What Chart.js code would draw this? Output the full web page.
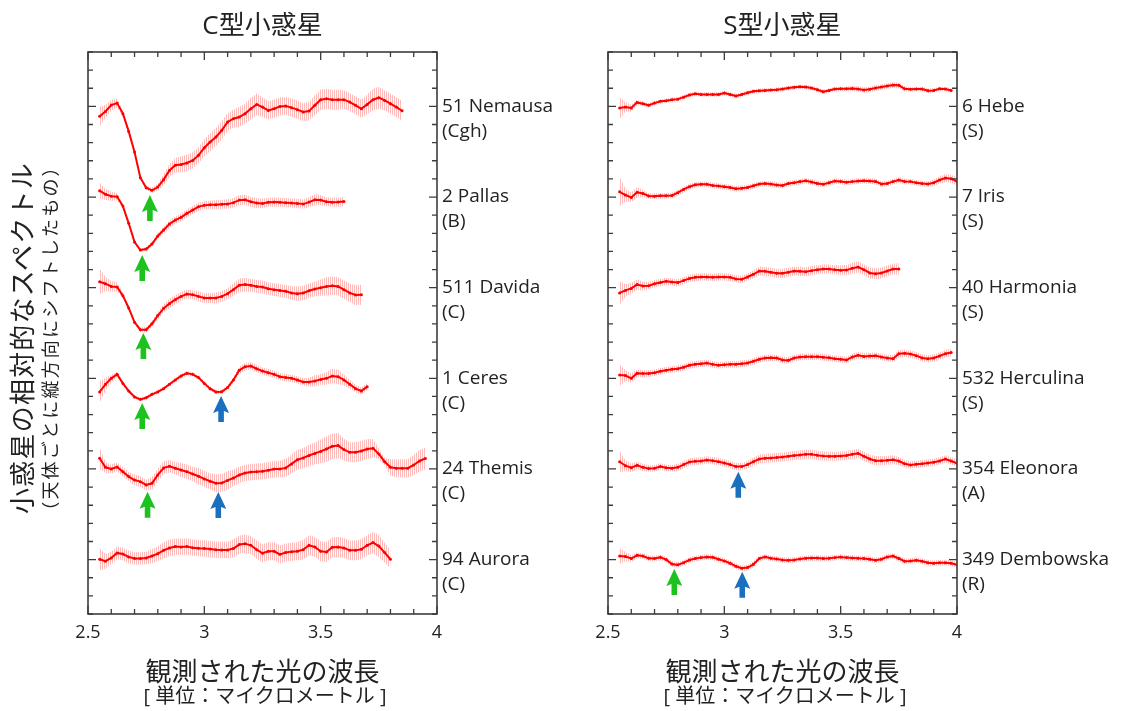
<!DOCTYPE html>
<html><head><meta charset="utf-8">
<script src="https://cdn.jsdelivr.net/npm/chart.js@4/dist/chart.umd.min.js"></script>
<style>
html,body{margin:0;padding:0;background:#fff;}
#wrap{position:relative;width:1121px;height:711px;overflow:hidden;font-family:"Open Sans","Noto Sans CJK JP",sans-serif;color:#222;}
.cv{position:absolute;top:0;height:711px;}
.t{position:absolute;text-align:center;white-space:nowrap;}
</style></head><body>
<div id="wrap">
<div class="cv" style="left:0;width:560px"><canvas id="c1"></canvas></div>
<div class="cv" style="left:560px;width:561px"><canvas id="c2"></canvas></div>
<div class="t" style="left:62.5px;width:400px;top:8px;font-size:26px;line-height:32px">C型小惑星</div>
<div class="t" style="left:582.5px;width:400px;top:8px;font-size:26px;line-height:32px">S型小惑星</div>
<div class="t" style="left:62.5px;width:400px;top:655px;font-size:26px;line-height:32px">観測された光の波長</div>
<div class="t" style="left:65px;width:400px;top:684px;font-size:20px;line-height:24px">[ 単位：マイクロメートル ]</div>
<div class="t" style="left:582.5px;width:400px;top:655px;font-size:26px;line-height:32px">観測された光の波長</div>
<div class="t" style="left:585px;width:400px;top:684px;font-size:20px;line-height:24px">[ 単位：マイクロメートル ]</div>
<div class="t" style="left:-178px;top:322px;width:400px;font-size:26px;line-height:32px;letter-spacing:1.2px;transform:rotate(-90deg)">小惑星の相対的なスペクトル</div>
<div class="t" style="left:-150px;top:326px;width:400px;font-size:18px;line-height:24px;letter-spacing:2.2px;transform:rotate(-90deg)">（天体ごとに縦方向にシフトしたもの）</div>
</div>
<script>
// ---- data ----
const wavelengths = [2.55,2.575,2.6,2.625,2.65,2.675,2.7,2.725,2.75,2.775,2.8,2.825,2.85,2.875,2.9,2.925,2.95,2.975,3.0,3.025,3.05,3.075,3.1,3.125,3.15,3.175,3.2,3.225,3.25,3.275,3.3,3.325,3.35,3.375,3.4,3.425,3.45,3.475,3.5,3.525,3.55,3.575,3.6,3.625,3.65,3.675,3.7,3.725,3.75,3.775,3.8,3.825,3.85,3.875,3.9,3.925,3.95,3.975,4.0];
const xTickLabels = ['2.5','3','3.5','4'];
const baselines = [28,23,18,13,8,3];

const cNames = ['51 Nemausa','2 Pallas','511 Davida','1 Ceres','24 Themis','94 Aurora'];
const cClasses = ['(Cgh)','(B)','(C)','(C)','(C)','(C)'];
const sNames = ['6 Hebe','7 Iris','40 Harmonia','532 Herculina','354 Eleonora','349 Dembowska'];
const sClasses = ['(S)','(S)','(S)','(S)','(A)','(R)'];

// relative spectra (offset from each baseline), C-type
const nemausa = [-0.55,-0.28,0.07,0.18,-0.40,-1.38,-2.52,-3.93,-4.49,-4.63,-4.45,-4.04,-3.53,-3.25,-3.20,-3.12,-2.98,-2.70,-2.28,-1.97,-1.69,-1.32,-0.86,-0.68,-0.59,-0.40,-0.13,0.11,-0.04,-0.22,-0.13,0,0.02,-0.07,-0.18,-0.31,-0.26,0.06,0.37,0.42,0.37,0.37,0.37,0.24,0.06,-0.13,0.11,0.37,0.48,0.33,0.15,-0.04,-0.24];
const nemausaErr = [0.55,0.35,0.3,0.25,0.15,0.1,0.1,0.1,0.12,0.15,0.2,0.3,0.35,0.4,0.45,0.45,0.45,0.45,0.45,0.5,0.5,0.5,0.5,0.5,0.55,0.55,0.6,0.6,0.55,0.5,0.5,0.5,0.5,0.5,0.5,0.5,0.5,0.55,0.55,0.55,0.55,0.55,0.5,0.5,0.5,0.5,0.55,0.6,0.6,0.55,0.55,0.55,0.55];
const pallas = [0.35,0.15,0.05,0.02,-0.50,-1.45,-2.48,-2.92,-2.87,-2.59,-2.15,-1.82,-1.49,-1.27,-1.12,-0.90,-0.72,-0.53,-0.46,-0.42,-0.42,-0.40,-0.39,-0.31,-0.17,-0.15,-0.26,-0.33,-0.35,-0.29,-0.28,-0.29,-0.31,-0.33,-0.35,-0.39,-0.28,-0.15,-0.17,-0.26,-0.29,-0.28,-0.24];
const pallasErr = [0.45,0.3,0.25,0.2,0.12,0.08,0.08,0.1,0.1,0.12,0.15,0.18,0.2,0.2,0.22,0.22,0.22,0.22,0.22,0.22,0.25,0.25,0.25,0.25,0.28,0.28,0.28,0.28,0.25,0.25,0.25,0.25,0.25,0.25,0.25,0.25,0.28,0.3,0.28,0.25,0.25,0.25,0.25];
const davida = [0.33,0.22,0.07,0.04,-0.44,-1.12,-1.91,-2.32,-2.32,-1.99,-1.54,-1.14,-0.88,-0.66,-0.48,-0.35,-0.39,-0.48,-0.57,-0.57,-0.57,-0.48,-0.33,-0.11,0.13,0.17,0.13,0.07,0.04,-0.06,-0.11,-0.15,-0.20,-0.29,-0.33,-0.29,-0.17,-0.07,0,0.07,0.11,0.07,-0.11,-0.29,-0.40,-0.39];
const davidaErr = [0.7,0.4,0.3,0.25,0.15,0.1,0.1,0.12,0.15,0.15,0.2,0.22,0.25,0.25,0.25,0.25,0.25,0.28,0.28,0.28,0.3,0.3,0.3,0.35,0.38,0.38,0.35,0.35,0.35,0.35,0.35,0.35,0.35,0.38,0.4,0.4,0.4,0.4,0.45,0.5,0.5,0.5,0.5,0.5,0.55,0.55];
const ceres = [-0.75,-0.33,0,0.22,-0.28,-0.70,-1.03,-1.16,-1.07,-0.88,-0.75,-0.57,-0.33,-0.09,0.13,0.28,0.22,0.04,-0.28,-0.57,-0.75,-0.74,-0.51,-0.09,0.44,0.64,0.68,0.53,0.40,0.31,0.22,0.09,0.04,0,-0.09,-0.20,-0.20,-0.15,-0.06,0,0.13,0.09,-0.09,-0.33,-0.57,-0.70,-0.46];
const ceresErr = [0.6,0.35,0.2,0.15,0.12,0.1,0.1,0.1,0.1,0.1,0.1,0.1,0.1,0.12,0.12,0.12,0.12,0.12,0.12,0.12,0.12,0.12,0.12,0.15,0.2,0.2,0.2,0.2,0.2,0.2,0.2,0.2,0.2,0.2,0.2,0.2,0.25,0.3,0.3,0.35,0.4,0.4,0.3,0.25,0.2,0.2,0.2];
const themis = [0.59,0.09,0,0.11,-0.15,-0.42,-0.61,-0.70,-0.88,-0.79,-0.33,0.06,0.15,0.04,-0.06,-0.15,-0.28,-0.40,-0.55,-0.68,-0.79,-0.77,-0.63,-0.50,-0.33,-0.22,-0.17,-0.15,-0.13,-0.07,0,0,0.06,0.28,0.51,0.61,0.74,0.86,0.97,1.10,1.25,1.29,1.07,0.92,0.92,0.99,1.10,1.14,0.83,0.40,0.09,0.04,0.04,0.04,0.22,0.44,0.58];
const themisErr = [0.6,0.3,0.25,0.25,0.25,0.25,0.3,0.3,0.3,0.35,0.35,0.35,0.35,0.35,0.4,0.4,0.4,0.45,0.45,0.45,0.5,0.5,0.5,0.45,0.45,0.45,0.45,0.45,0.45,0.45,0.45,0.45,0.5,0.5,0.55,0.55,0.6,0.6,0.65,0.7,0.7,0.7,0.6,0.55,0.55,0.55,0.55,0.5,0.3,0.2,0.45,0.5,0.5,0.5,0.55,0.6,0.6];
const aurora = [0.02,-0.09,0.09,0.37,0.31,0.15,0.06,0.06,0.09,0.20,0.33,0.51,0.64,0.72,0.70,0.72,0.66,0.63,0.61,0.59,0.55,0.53,0.53,0.61,0.83,0.88,0.79,0.55,0.35,0.46,0.46,0.29,0.39,0.44,0.46,0.55,0.79,0.70,0.46,0.42,0.68,0.70,0.64,0.51,0.51,0.57,0.79,0.94,0.75,0.39,0.02];
const auroraErr = [0.6,0.4,0.35,0.35,0.35,0.35,0.35,0.35,0.35,0.4,0.4,0.45,0.45,0.45,0.45,0.45,0.45,0.45,0.45,0.45,0.45,0.45,0.45,0.5,0.5,0.5,0.5,0.5,0.5,0.5,0.5,0.5,0.5,0.5,0.5,0.55,0.55,0.55,0.55,0.55,0.55,0.55,0.55,0.55,0.55,0.55,0.55,0.6,0.6,0.55,0.5];

// S-type
const hebe = [-0.09,-0.04,-0.09,0.22,0.15,0.06,0.18,0.28,0.31,0.37,0.40,0.51,0.63,0.70,0.66,0.66,0.66,0.66,0.74,0.66,0.57,0.66,0.75,0.83,0.86,0.88,0.90,0.92,0.96,1.01,1.05,1.08,1.07,1.01,0.92,0.81,0.88,0.96,0.97,0.97,0.99,0.96,0.90,0.94,1.01,1.07,1.12,1.18,1.16,0.97,0.94,0.96,0.96,0.86,0.88,0.97,0.96,0.88];
const hebeErr = [0.6,0.25,0.2,0.15,0.12,0.12,0.12,0.12,0.12,0.12,0.12,0.12,0.12,0.12,0.12,0.12,0.12,0.12,0.12,0.12,0.12,0.12,0.12,0.12,0.12,0.12,0.12,0.12,0.12,0.12,0.12,0.12,0.12,0.12,0.12,0.12,0.12,0.12,0.12,0.12,0.15,0.15,0.15,0.15,0.15,0.15,0.15,0.15,0.15,0.15,0.12,0.12,0.12,0.12,0.12,0.12,0.12,0.12];
const iris = [0.29,0.11,-0.02,0.26,0.20,0.06,0.04,0.07,0.07,0.09,0.24,0.42,0.57,0.68,0.70,0.70,0.64,0.61,0.57,0.53,0.46,0.48,0.53,0.62,0.72,0.75,0.72,0.66,0.64,0.75,0.79,0.85,0.90,0.83,0.75,0.70,0.79,0.88,0.86,0.81,0.85,0.88,0.90,0.88,0.86,0.72,0.75,0.85,0.94,0.86,0.85,0.79,0.75,0.72,0.79,0.94,1.05,1.01,0.86];
const irisErr = [0.8,0.35,0.25,0.3,0.2,0.15,0.15,0.15,0.15,0.15,0.15,0.15,0.15,0.15,0.15,0.15,0.15,0.15,0.15,0.15,0.15,0.15,0.15,0.15,0.15,0.15,0.15,0.15,0.15,0.15,0.15,0.15,0.15,0.15,0.15,0.15,0.15,0.15,0.15,0.15,0.15,0.15,0.15,0.15,0.15,0.15,0.15,0.15,0.15,0.15,0.15,0.15,0.15,0.15,0.18,0.2,0.22,0.22,0.22];
const harmonia = [-0.29,-0.15,-0.04,0.17,0.09,0.11,0.22,0.29,0.35,0.31,0.28,0.39,0.51,0.57,0.59,0.59,0.57,0.59,0.59,0.57,0.48,0.46,0.59,0.74,0.92,0.90,0.85,0.79,0.79,0.85,0.92,0.90,0.88,0.94,0.99,1.03,1.03,0.99,0.96,0.97,1.07,1.14,0.99,0.81,0.77,0.81,0.92,1.03,1.03];
const harmoniaErr = [0.65,0.35,0.3,0.3,0.25,0.2,0.2,0.2,0.2,0.2,0.2,0.2,0.2,0.2,0.2,0.2,0.2,0.2,0.2,0.2,0.2,0.2,0.2,0.22,0.25,0.25,0.25,0.25,0.25,0.25,0.25,0.25,0.25,0.25,0.25,0.25,0.25,0.25,0.28,0.28,0.3,0.3,0.3,0.3,0.3,0.3,0.3,0.3,0.3];
const herculina = [0.18,0.15,0,0.28,0.26,0.26,0.31,0.39,0.44,0.50,0.53,0.61,0.72,0.77,0.81,0.85,0.77,0.72,0.75,0.77,0.77,0.81,0.85,0.94,1.05,1.12,1.14,1.12,1.01,0.99,1.12,1.18,1.19,1.19,1.19,1.16,1.14,1.08,1.05,1.01,1.18,1.27,1.21,1.23,1.25,1.18,1.12,1.08,1.36,1.38,1.34,1.25,1.12,1.08,1.12,1.23,1.36,1.42];
const herculinaErr = [0.6,0.3,0.25,0.2,0.2,0.18,0.18,0.18,0.18,0.18,0.18,0.18,0.18,0.18,0.18,0.18,0.18,0.18,0.18,0.18,0.18,0.18,0.18,0.18,0.18,0.18,0.18,0.18,0.18,0.18,0.18,0.18,0.18,0.18,0.18,0.18,0.18,0.18,0.18,0.18,0.18,0.18,0.18,0.18,0.18,0.18,0.18,0.18,0.2,0.2,0.2,0.2,0.2,0.2,0.2,0.2,0.2,0.2];
const eleonora = [0.40,0.18,0.07,0.20,0.09,0.02,0.04,0.13,0.07,0.04,0.09,0.24,0.39,0.42,0.44,0.50,0.46,0.40,0.33,0.24,0.13,0.13,0.24,0.40,0.55,0.59,0.61,0.63,0.66,0.70,0.74,0.77,0.81,0.81,0.75,0.72,0.70,0.70,0.72,0.74,0.81,0.86,0.70,0.55,0.46,0.46,0.48,0.51,0.44,0.29,0.22,0.26,0.29,0.33,0.37,0.44,0.55,0.44,0.31];
const eleonoraErr = [0.6,0.3,0.25,0.2,0.2,0.18,0.18,0.18,0.18,0.18,0.2,0.2,0.2,0.2,0.2,0.2,0.2,0.2,0.2,0.2,0.2,0.2,0.2,0.22,0.25,0.25,0.25,0.25,0.25,0.25,0.25,0.25,0.25,0.25,0.25,0.25,0.25,0.25,0.25,0.25,0.25,0.25,0.25,0.25,0.25,0.25,0.25,0.25,0.22,0.2,0.2,0.2,0.2,0.2,0.2,0.2,0.2,0.2,0.2];
const dembowska = [0.20,0.17,0.06,0.24,0.20,0.07,0.06,0.13,0,-0.24,-0.29,-0.17,-0.02,0.06,0.11,0.15,0.13,0.02,-0.07,-0.20,-0.37,-0.48,-0.44,-0.26,0.06,0.15,0.07,0.04,-0.02,-0.04,-0.02,0.04,0.07,0.09,0.09,0.06,0.07,0.11,0.15,0.11,0.09,0.07,0.06,0.02,-0.04,0.02,0.15,0.20,0.06,-0.09,-0.07,-0.04,-0.09,-0.17,-0.20,-0.17,-0.17,-0.20,-0.28];
const dembowskaErr = [0.45,0.25,0.2,0.15,0.15,0.15,0.15,0.15,0.15,0.15,0.15,0.15,0.15,0.15,0.15,0.15,0.15,0.15,0.15,0.15,0.15,0.15,0.15,0.15,0.15,0.15,0.15,0.15,0.15,0.15,0.15,0.15,0.15,0.15,0.15,0.15,0.15,0.15,0.15,0.15,0.15,0.15,0.15,0.15,0.15,0.15,0.15,0.15,0.15,0.15,0.15,0.15,0.15,0.15,0.15,0.15,0.15,0.15,0.15];

// absorption-band arrows: spectrum index, wavelength, tip offset from baseline
const arrowsC = [
  {spectrum:0, x:2.766, tip:-4.89, color:'green'},
  {spectrum:1, x:2.733, tip:-3.20, color:'green'},
  {spectrum:2, x:2.738, tip:-2.50, color:'green'},
  {spectrum:3, x:2.733, tip:-1.36, color:'green'},
  {spectrum:3, x:3.072, tip:-0.98, color:'blue'},
  {spectrum:4, x:2.756, tip:-1.25, color:'green'},
  {spectrum:4, x:3.060, tip:-1.27, color:'blue'}
];
const arrowsS = [
  {spectrum:4, x:3.060, tip:-0.15, color:'blue'},
  {spectrum:5, x:2.785, tip:-0.52, color:'green'},
  {spectrum:5, x:3.077, tip:-0.67, color:'blue'}
];

const cSpectra = [[nemausa,nemausaErr],[pallas,pallasErr],[davida,davidaErr],[ceres,ceresErr],[themis,themisErr],[aurora,auroraErr]];
const sSpectra = [[hebe,hebeErr],[iris,irisErr],[harmonia,harmoniaErr],[herculina,herculinaErr],[eleonora,eleonoraErr],[dembowska,dembowskaErr]];

// ---- drawing ----
const FONT = '"Open Sans", "Noto Sans CJK JP", sans-serif';
const ARROW_COLORS = {green:'#1ec21e', blue:'#1a6fbe'};

const pc = document.createElement('canvas'); pc.width = 2; pc.height = 1;
const pctx = pc.getContext('2d');
pctx.fillStyle = 'rgba(255,140,140,0.6)'; pctx.fillRect(0,0,1,1);
const hatch = pctx.createPattern(pc, 'repeat');

function buildDatasets(spectra) {
  const ds = [];
  spectra.forEach(([vals, errs], i) => {
    const b = baselines[i];
    const lo = vals.map((v,j)=>({x:wavelengths[j], y:b+v-errs[j]}));
    const hi = vals.map((v,j)=>({x:wavelengths[j], y:b+v+errs[j]}));
    const mid = vals.map((v,j)=>({x:wavelengths[j], y:b+v}));
    ds.push({data:lo, borderColor:'rgba(0,0,0,0)', borderWidth:0, pointRadius:0, fill:false, order:2});
    ds.push({data:hi, borderColor:'rgba(0,0,0,0)', borderWidth:0, pointRadius:0, fill:'-1', backgroundColor:hatch, order:2});
    ds.push({data:mid, borderColor:'#ff0000', borderWidth:2, pointRadius:1.5, pointBackgroundColor:'#ff0000', pointBorderWidth:0, fill:false, order:0});
  });
  return ds;
}

function panelPlugin(names, classes, arrows) {
  return {
    id:'panel',
    afterDatasetsDraw(chart) {
      const {ctx, chartArea:a, scales:{x, y}} = chart;
      ctx.save();
      // arrows
      arrows.forEach(ar => {
        const px = x.getPixelForValue(ar.x);
        const ty = y.getPixelForValue(baselines[ar.spectrum] + ar.tip);
        ctx.fillStyle = ARROW_COLORS[ar.color];
        ctx.beginPath();
        ctx.moveTo(px, ty);
        ctx.lineTo(px+8, ty+17);
        ctx.lineTo(px+2.8, ty+15);
        ctx.lineTo(px+2.8, ty+26);
        ctx.lineTo(px-2.8, ty+26);
        ctx.lineTo(px-2.8, ty+15);
        ctx.lineTo(px-8, ty+17);
        ctx.closePath();
        ctx.fill();
      });
      // frame and inward ticks
      ctx.strokeStyle = '#3c3c3c';
      ctx.lineWidth = 1.6;
      ctx.strokeRect(a.left, a.top, a.right-a.left, a.bottom-a.top);
      ctx.lineWidth = 1.3;
      ctx.beginPath();
      x.ticks.forEach(t => {
        const px = x.getPixelForValue(t.value);
        const L = (Math.round(t.value*10) % 5 === 0) ? 8 : 5;
        ctx.moveTo(px, a.bottom); ctx.lineTo(px, a.bottom-L);
        ctx.moveTo(px, a.top); ctx.lineTo(px, a.top+L);
      });
      y.ticks.forEach(t => {
        const py = y.getPixelForValue(t.value);
        const L = baselines.includes(Math.round(t.value)) ? 8 : 5;
        ctx.moveTo(a.left, py); ctx.lineTo(a.left+L, py);
        ctx.moveTo(a.right, py); ctx.lineTo(a.right-L, py);
      });
      ctx.stroke();
      // labels
      ctx.fillStyle = '#222';
      ctx.font = '19px ' + FONT;
      ctx.textAlign = 'left';
      ctx.textBaseline = 'middle';
      names.forEach((n,i) => {
        const py = y.getPixelForValue(baselines[i]);
        ctx.fillText(n, a.right+5, py);
        ctx.fillText(classes[i], a.right+5, py+25);
      });
      ctx.restore();
    }
  };
}

function makeChart(id, spectra, names, classes, arrows, padL, padR) {
  return new Chart(document.getElementById(id), {
    type:'line',
    data:{datasets:buildDatasets(spectra)},
    options:{
      responsive:true, maintainAspectRatio:false, animation:false,
      layout:{padding:{left:padL, right:padR, top:52, bottom:67}},
      plugins:{legend:{display:false}, tooltip:{enabled:false}},
      elements:{line:{tension:0}},
      scales:{
        x:{type:'linear', min:2.5, max:4,
           grid:{display:false, drawTicks:false}, border:{display:false},
           ticks:{stepSize:0.1, maxTicksLimit:100, autoSkip:false, maxRotation:0, padding:8, color:'#222',
                  font:{size:18, family:FONT},
                  callback:(v)=>{ const k=Math.round(v*10); return k%5===0 ? xTickLabels[(k-25)/5] : ''; }},
           afterFit:(s)=>{ s.height = 30; }},
        y:{type:'linear', min:0, max:31,
           grid:{display:false, drawTicks:false}, border:{display:false},
           ticks:{display:false, stepSize:1, maxTicksLimit:100},
           afterFit:(s)=>{ s.width = 0; }}
      }
    },
    plugins:[panelPlugin(names, classes, arrows)]
  });
}

makeChart('c1', cSpectra, cNames, cClasses, arrowsC, 88, 123);
makeChart('c2', sSpectra, sNames, sClasses, arrowsS, 48, 164);
</script>
</body></html>
